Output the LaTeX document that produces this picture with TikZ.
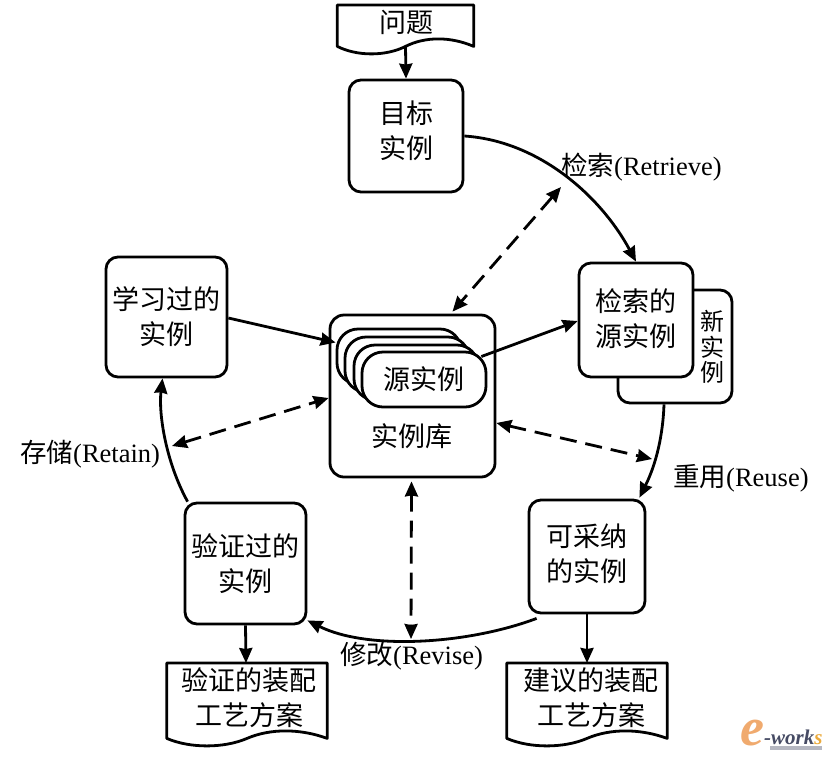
\documentclass[tikz,border=0pt]{standalone}
\usepackage{fontspec}
\setmainfont{Liberation Serif}
\newfontfamily\cjk{Noto Sans CJK SC}
\usetikzlibrary{arrows.meta,calc}
\definecolor{logoor}{RGB}{240,170,110}
\definecolor{logobl}{RGB}{70,75,100}
\definecolor{logoye}{RGB}{235,170,60}
\newcommand{\boxat}[6]{\node[box,rounded corners=#6,minimum width=#3 pt,minimum height=#4 pt] (#1) at (#2) {#5};}
\newcommand{\docshape}[1]{%
  \draw[line] (#1.south west) -- (#1.north west) -- (#1.north east) -- (#1.south east)
    .. controls ($(#1.south east)!0.17!(#1.south west)+(0,-10)$) and ($(#1.south)!0.29!(#1.south east)+(0,-10)$) .. (#1.south)
    .. controls ($(#1.south)!0.29!(#1.south west)+(0,10)$) and ($(#1.south west)!0.29!(#1.south)+(0,10)$) .. (#1.south west) -- cycle;}
\tikzset{
  line/.style={line width=2.8pt,line join=round},
  box/.style={line,draw,fill=white,align=center,inner sep=0pt,font=\cjk\fontsize{27}{35}\selectfont},
  doc/.style={inner sep=0pt,align=center,font=\cjk\fontsize{27}{35}\selectfont},
  lbl/.style={inner sep=0pt,font=\fontsize{26.5}{30}\selectfont},
  arr/.style={line,-{Stealth[length=15pt,width=13pt,inset=1pt]}},
  dash2/.style={line,dash pattern=on 17pt off 9pt,{Stealth[length=15pt,width=13pt,inset=1pt]}-{Stealth[length=15pt,width=13pt,inset=1pt]}},
}
\begin{document}
\begin{tikzpicture}[x=1pt,y=-1pt]
\path[use as bounding box] (0,0) rectangle (834,761);
% boxes
\boxat{tgt}{406,136}{114}{112}{}{12pt}
\node[doc] (tgtt) at (406,131) {目标\\实例};
\boxat{nw}{675,346.5}{114}{113}{}{12pt}
\node[doc,font=\cjk\fontsize{24}{25.5}\selectfont] (nwt) at (712,347) {新\\实\\例};
\boxat{src}{636,320}{114}{114}{}{12pt}
\node[doc] (srct) at (636,319) {检索的\\源实例};
\boxat{lrn}{166.5,317}{121}{120}{学习过的\\实例}{12pt}
\boxat{lib}{412.5,396}{165}{162}{}{14pt}
\boxat{s1}{399,356.5}{124}{55}{}{21pt}
\boxat{s2}{407,364.5}{124}{55}{}{21pt}
\boxat{s3}{416,372.5}{124}{55}{}{21pt}
\boxat{s4}{424,379.5}{124}{55}{源实例}{21pt}
\node[doc] (libt) at (412,436) {实例库};
\boxat{ado}{587,556.5}{116}{113}{}{12pt}
\node[doc] (adot) at (587,554) {可采纳\\的实例};
\boxat{ver}{245.5,563.5}{121}{121}{验证过的\\实例}{12pt}
% documents
\node[doc,minimum width=136pt,minimum height=41pt,anchor=north] (q) at (405.5,5) {};
\docshape{q}
\node[doc] (qt) at (406,22) {问题};
\node[doc,minimum width=160pt,minimum height=75pt,anchor=north] (d1) at (247,663) {};
\docshape{d1}
\node[doc] (d1t) at (249,698) {验证的装配\\工艺方案};
\node[doc,minimum width=160pt,minimum height=75pt,anchor=north] (d2) at (587,663) {};
\docshape{d2}
\node[doc] (d2t) at (591,698) {建议的装配\\工艺方案};
% labels
\node[lbl,anchor=west] (l1) at (561,167) {{\cjk 检索}(Retrieve)};
\node[lbl,anchor=west] (l2) at (673,478) {{\cjk 重用}(Reuse)};
\node[lbl,anchor=west] (l3) at (340,656) {{\cjk 修改}(Revise)};
\node[lbl,anchor=west] (l4) at (20,454) {{\cjk 存储}(Retain)};
\coordinate (rv) at (411,639);
\coordinate (ds1) at (561,187);
\coordinate (ds2) at (172,446);
\coordinate (ds3) at (652,459);
% connectors
\draw[arr] (q.south) -- (tgt.north);
\draw[arr] (tgt.east) .. controls ($(tgt.east)+(75,5)$) and ($(src.north)+(-35,-65)$) .. (src.north);
\draw[arr] ($(nw.south)+(-11,0)$) .. controls ($(nw.south)+(-12,30)$) and ($(ado.north east)+(10,-35)$) .. ($(ado.north east)+(-7,-1)$);
\draw[arr] ($(ado.south west)+(9,4)$) .. controls ($(ado.south west)+(-60,30)$) and ($(ver.south east)+(60,25)$) .. ($(ver.south east)+(0,-5)$);
\draw[arr] ($(ver.north west)+(4,0)$) .. controls ($(ver.north west)+(-18,-40)$) and ($(lrn.south)+(-8,35)$) .. ($(lrn.south)+(-4,0)$);
\draw[arr] (lrn.east) ++(0,1) -- ($(s1.west)+(0,-14)$);
\draw[arr] ($(s4.east)+(-6,-23)$) -- ($(src.west)+(0,1)$);
\draw[arr] (ado.south) -- (d2.north);
\draw[arr] (ver.south) -- ($(d1.north)+(-1,0)$);
\draw[dash2] (ds1) -- ($(lib.north)+(40,-2)$);
\draw[dash2] (ds2) -- ($(lib.west)+(0,2)$);
\draw[dash2] ($(lib.east)+(0,27)$) -- (ds3);
\draw[dash2] ($(lib.south)+(-1,3)$) -- (rv);
% logo
\node[inner sep=0pt,text=logoor,font=\itshape\bfseries\fontsize{54}{54}\selectfont] (lge) at (752,733) {e};
\node[inner sep=0pt,anchor=west,text=logobl,font=\itshape\bfseries\fontsize{21}{21}\selectfont] (lgw) at (764,737) {-work\textcolor{logoye}{s}};
\fill[logobl!40] (770,746) rectangle (822,750);
\end{tikzpicture}
\end{document}
